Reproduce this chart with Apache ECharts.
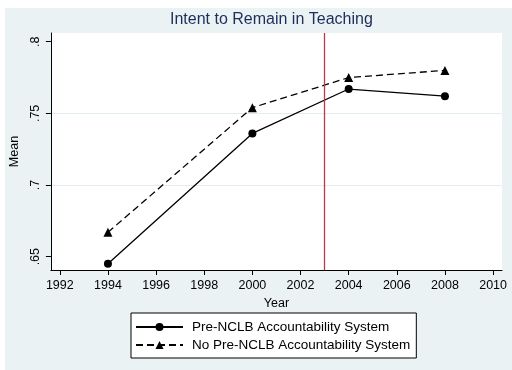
<!DOCTYPE html>
<html>
<head>
<meta charset="utf-8">
<script src="https://cdn.jsdelivr.net/npm/echarts@6/dist/echarts.min.js"></script>
<style>
  html, body { margin: 0; padding: 0; background: #fff; }
  #chart { width: 512px; height: 370px; }
</style>
</head>
<body>
<div id="chart"></div>
<script>
// Survey waves and group means
const years = [1994, 2000, 2004, 2008];
const preNclb = [0.645, 0.736, 0.767, 0.762];
const noPreNclb = [0.667, 0.754, 0.775, 0.780];
const seriesNames = ['Pre-NCLB Accountability System', 'No Pre-NCLB Accountability System'];
const xTicks = [1992, 1994, 1996, 1998, 2000, 2002, 2004, 2006, 2008, 2010];
const yTicks = [0.65, 0.70, 0.75, 0.80];
const nclbYear = 2003;

const FONT = 'Liberation Sans, Arial, Helvetica, sans-serif';
const BG = '#eaf2f3';

const pairs = (xs, ys) => xs.map((x, i) => [x, ys[i]]);
const fmtY = v => String(Math.round(v * 100) / 100).replace(/^0/, '');
const fmtX = v => String(Math.round(v));

const chart = echarts.init(document.getElementById('chart'), null, { renderer: 'canvas' });

chart.setOption({
  backgroundColor: '#ffffff',
  animation: false,
  textStyle: { fontFamily: FONT },
  graphic: [{
    type: 'rect',
    z: -5,
    shape: { x: 5, y: 8, width: 507, height: 362 },
    style: { fill: BG }
  }],
  title: {
    text: 'Intent to Remain in Teaching',
    left: 170,
    top: 12,
    padding: 0,
    textStyle: { fontFamily: FONT, fontSize: 16, fontWeight: 'normal', color: '#1d2d5c' }
  },
  grid: {
    left: 46, top: 33, right: 10, bottom: 100,
    show: true, backgroundColor: '#ffffff', borderWidth: 0,
    containLabel: false
  },
  xAxis: {
    type: 'value',
    min: 1991.63,
    max: 2010.37,
    name: 'Year',
    nameLocation: 'middle',
    nameGap: 23,
    nameTextStyle: { fontFamily: FONT, fontSize: 12.5, color: '#000' },
    axisLine: { show: true, lineStyle: { color: '#000', width: 1 } },
    axisTick: { show: true, length: 5, customValues: xTicks, lineStyle: { color: '#000' } },
    axisLabel: { customValues: xTicks, margin: 9, fontFamily: FONT, fontSize: 12.5, color: '#000', formatter: fmtX },
    splitLine: { show: false }
  },
  yAxis: {
    type: 'value',
    min: 0.6407,
    max: 0.8061,
    splitNumber: 3,
    name: 'Mean',
    nameLocation: 'middle',
    nameGap: 26,
    nameRotate: 90,
    nameTextStyle: { fontFamily: FONT, fontSize: 12.5, color: '#000' },
    axisLine: { show: true, lineStyle: { color: '#000', width: 1 } },
    axisTick: { show: true, length: 5, customValues: yTicks, lineStyle: { color: '#000' } },
    axisLabel: { customValues: yTicks, rotate: 90, margin: 9, fontFamily: FONT, fontSize: 12.5, color: '#000', formatter: fmtY },
    splitLine: { show: true, showMinLine: false, showMaxLine: false, lineStyle: { color: '#e3ecee', width: 1 } }
  },
  legend: {
    orient: 'vertical',
    left: 131,
    top: 313,
    padding: [7, 6, 6, 4],
    itemGap: 4,
    itemWidth: 47,
    itemHeight: 10,
    backgroundColor: '#ffffff',
    borderColor: '#000',
    borderWidth: 1,
    borderRadius: 0,
    textStyle: { fontFamily: FONT, fontSize: 13.5, color: '#000', padding: [0, 0, 0, 4] },
    data: seriesNames
  },
  series: [
    {
      name: seriesNames[0],
      type: 'line',
      data: pairs(years, preNclb),
      symbol: 'circle',
      symbolSize: 8,
      lineStyle: { color: '#000', width: 1.3, type: 'solid' },
      itemStyle: { color: '#000' },
      markLine: {
        silent: true,
        symbol: 'none',
        label: { show: false },
        lineStyle: { color: '#b83a4e', width: 1.3, type: 'solid' },
        data: [{ xAxis: nclbYear }]
      }
    },
    {
      name: seriesNames[1],
      type: 'line',
      data: pairs(years, noPreNclb),
      symbol: 'triangle',
      symbolSize: 9,
      lineStyle: { color: '#000', width: 1.3, type: [7, 4] },
      itemStyle: { color: '#000' }
    }
  ]
});
</script>
</body>
</html>
